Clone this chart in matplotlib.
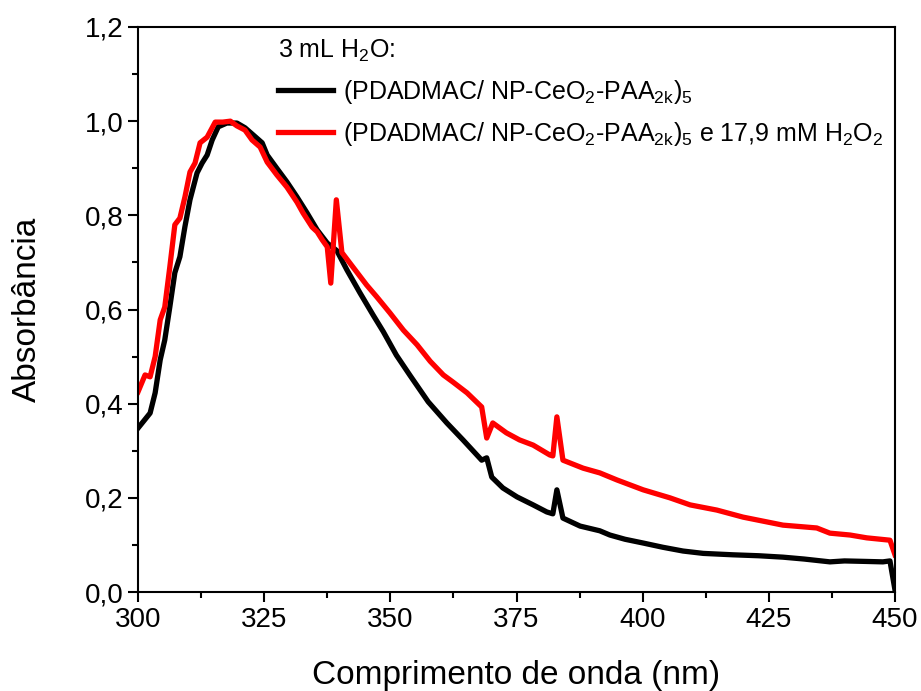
import numpy as np
import matplotlib.pyplot as plt
from matplotlib.ticker import MultipleLocator, FuncFormatter

plt.rcParams['font.family'] = ['Liberation Sans', 'DejaVu Sans']
plt.rcParams['mathtext.fontset'] = 'custom'
plt.rcParams['mathtext.rm'] = 'Liberation Sans'
plt.rcParams['mathtext.default'] = 'regular'

# data
wl_black = [300, 302.4, 303.4, 304.4, 305.3, 306.3, 307.3, 308.3, 309.3, 310.3,
            311.7, 312.7, 313.7, 314.7, 315.9, 317.6, 319.6, 321.2, 322.8, 324.6,
            325.6, 327.5, 329.5, 331.5, 333.5, 335.5, 337.5, 339.4, 341.4, 344,
            346.6, 348.6, 351.2, 353.9, 357.5, 361.2, 364.4, 368.1, 369.1, 370.1,
            372.3, 375.1, 378.3, 381, 382.2, 383, 384.2, 387.6, 391.5, 393.5,
            396.5, 400.1, 404, 408, 412, 417.9, 423, 427.8, 432, 437.1,
            440, 444, 447.6, 449, 450]
abs_black = [0.348, 0.38, 0.423, 0.493, 0.535, 0.605, 0.678, 0.712, 0.776, 0.833,
             0.89, 0.911, 0.928, 0.96, 0.988, 0.996, 0.996, 0.986, 0.971, 0.954,
             0.928, 0.9, 0.871, 0.839, 0.805, 0.769, 0.741, 0.725, 0.684, 0.635,
             0.588, 0.553, 0.503, 0.46, 0.404, 0.359, 0.323, 0.28, 0.285, 0.244,
             0.221, 0.202, 0.185, 0.17, 0.166, 0.217, 0.157, 0.14, 0.13, 0.121,
             0.112, 0.104, 0.095, 0.087, 0.082, 0.079, 0.077, 0.074, 0.07, 0.064,
             0.066, 0.065, 0.064, 0.066, 0.004]

wl_red = [300, 301.4, 302.4, 303.4, 304.4, 305.3, 306.3, 307.3, 308.3, 309.3,
          310.3, 311.3, 312.3, 313.7, 315.3, 316.8, 318.3, 319.6, 321.2, 322.6,
          324.2, 325.6, 327.5, 329.5, 331.5, 332.7, 334.5, 335.5, 336.5, 337.5,
          338.2, 339.3, 340.4, 342.6, 345.3, 347.3, 349.9, 352.6, 355.3, 357.9,
          360.5, 362.4, 365.2, 368.1, 369.1, 370.3, 373, 375.6, 378.3, 381.6,
          382.2, 383, 384.2, 388.2, 391.5, 394.9, 400.1, 405.4, 409.4, 414.7,
          419.9, 427.8, 434.5, 437.1, 441.1, 444.4, 449, 450]
abs_red = [0.425, 0.461, 0.457, 0.5, 0.578, 0.605, 0.69, 0.78, 0.794, 0.839,
           0.892, 0.911, 0.954, 0.966, 0.998, 0.998, 1.0, 0.99, 0.981, 0.96,
           0.945, 0.913, 0.886, 0.86, 0.828, 0.805, 0.775, 0.765, 0.748, 0.733,
           0.656, 0.833, 0.721, 0.69, 0.652, 0.627, 0.593, 0.556, 0.525, 0.49,
           0.461, 0.446, 0.423, 0.393, 0.327, 0.359, 0.338, 0.323, 0.312, 0.291,
           0.289, 0.372, 0.28, 0.263, 0.253, 0.238, 0.217, 0.2, 0.185, 0.174,
           0.159, 0.142, 0.136, 0.125, 0.121, 0.115, 0.11, 0.079]

label_black = '(PDADMAC/ NP-CeO$_2$-PAA$_{2k}$)$_5$'
label_red = '(PDADMAC/ NP-CeO$_2$-PAA$_{2k}$)$_5$ e 17,9 mM H$_2$O$_2$'

fig = plt.figure(figsize=(9.21, 6.91), dpi=100)
ax = fig.add_axes([138/921, 1-592/691, (895-138)/921, (592-27)/691])

ax.plot(wl_black, abs_black, color='black', lw=3.8, label=label_black)
ax.plot(wl_red, abs_red, color='#ff0000', lw=3.8, label=label_red)

ax.set_xlim(300, 450)
ax.set_ylim(0, 1.2)
ax.xaxis.set_major_locator(MultipleLocator(25))
ax.xaxis.set_minor_locator(MultipleLocator(12.5))
ax.yaxis.set_major_locator(MultipleLocator(0.2))
ax.yaxis.set_minor_locator(MultipleLocator(0.1))
ax.yaxis.set_major_formatter(FuncFormatter(lambda v, p: f'{v:.1f}'.replace('.', ',')))
ax.tick_params(which='both', direction='out', width=1.5, labelsize=20)
ax.tick_params(which='major', length=7)
ax.tick_params(which='minor', length=4)
for s in ax.spines.values():
    s.set_linewidth(1.5)

ax.set_xlabel('Comprimento de onda (nm)', fontsize=24, labelpad=20)
ax.set_ylabel('Absorbância', fontsize=24, labelpad=30)

leg = ax.legend(loc='upper left', bbox_to_anchor=(278/921, 1-38/691),
                bbox_transform=fig.transFigure, frameon=False, fontsize=18,
                title='3 mL H$_2$O:', title_fontsize=18, alignment='left',
                handlelength=2.2, handletextpad=0.4, labelspacing=0.55,
                borderpad=0, borderaxespad=0)

fig.savefig('out.png', dpi=100)
